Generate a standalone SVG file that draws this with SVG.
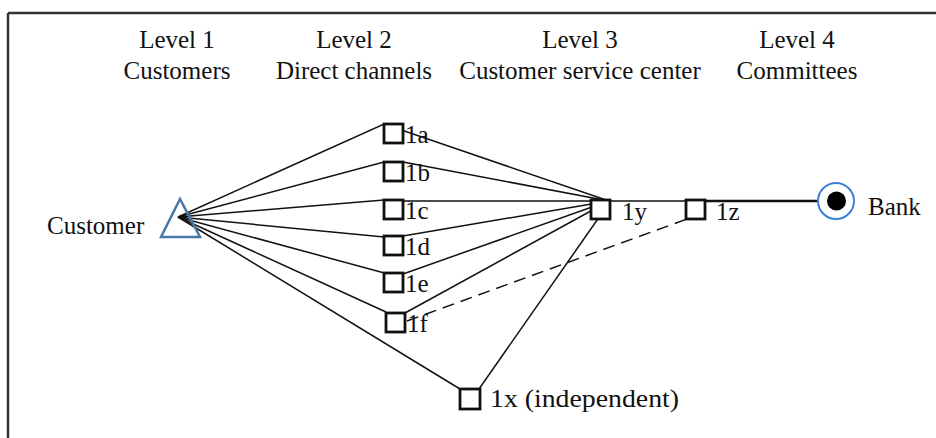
<svg xmlns="http://www.w3.org/2000/svg" width="936" height="438" viewBox="0 0 936 438">
<style>
text{font-family:"Liberation Serif","Times New Roman",serif;font-size:25px;fill:#111}
.hd{text-anchor:middle}
.box{fill:#fff;stroke:#111;stroke-width:2.8}
.ln{stroke:#111;stroke-width:1.5;fill:none}
</style>
<rect width="936" height="438" fill="#fff"/>
<path d="M8,13 H936 M8,13 V438" stroke="#333" stroke-width="2.5" fill="none"/>
<g id="headers">
<text class="hd" x="177" y="48">Level 1</text>
<text class="hd" x="177" y="79">Customers</text>
<text class="hd" x="354" y="48">Level 2</text>
<text class="hd" x="354" y="79">Direct channels</text>
<text class="hd" x="580" y="48">Level 3</text>
<text class="hd" x="580" y="79">Customer service center</text>
<text class="hd" x="797" y="48">Level 4</text>
<text class="hd" x="797" y="79">Committees</text>
</g>
<g id="connectors">
<path class="ln" d="M178,217 L384,124 L609,201"/>
<path class="ln" d="M178,217 L384,162 L403,162 L609,201"/>
<path class="ln" d="M178,217 L384,200"/>
<path class="ln" d="M178,217 L384,237"/>
<path class="ln" d="M403,236 L609,201"/>
<path class="ln" d="M178,217 L388,274"/>
<path class="ln" d="M403,274 L609,201"/>
<path class="ln" d="M178,217 L386,312"/>
<path class="ln" d="M405,313 L609,201"/>
<path class="ln" d="M178,217 L460,389"/>
<path class="ln" d="M609,203 L479,389"/>
<path class="ln" d="M384,201 H687"/>
<path d="M705,201 H836" stroke="#111" stroke-width="2.5"/>
<path class="ln" d="M407,321 L687,219" stroke-dasharray="12,7"/>
</g>
<g id="customer">
<polygon points="180,199 161,237 200,237" fill="none" stroke="#4a78a6" stroke-width="2.5"/>
<text x="47" y="234">Customer</text>
</g>
<g id="n1a"><rect class="box" x="384" y="124" width="19" height="19"/><text x="405" y="143">1a</text></g>
<g id="n1b"><rect class="box" x="384" y="162" width="19" height="19"/><text x="405" y="181">1b</text></g>
<g id="n1c"><rect class="box" x="384" y="200" width="19" height="19"/><text x="405" y="219">1c</text></g>
<g id="n1d"><rect class="box" x="384" y="236" width="19" height="19"/><text x="405" y="255">1d</text></g>
<g id="n1e"><rect class="box" x="384" y="273" width="19" height="19"/><text x="405" y="292">1e</text></g>
<g id="n1f"><rect class="box" x="386" y="313" width="19" height="19"/><text x="407" y="332">1f</text></g>
<g id="n1y"><rect class="box" x="591" y="200" width="19" height="19"/><text x="622" y="220">1y</text></g>
<g id="n1z"><rect class="box" x="686" y="200" width="19" height="19"/><text x="716" y="220">1z</text></g>
<g id="n1x"><rect class="box" x="460" y="389" width="20" height="20"/><text x="490" y="407" textLength="189" lengthAdjust="spacingAndGlyphs">1x (independent)</text></g>
<g id="bank">
<circle cx="836" cy="201" r="18" fill="#fff" stroke="#3d7fd6" stroke-width="2"/>
<circle cx="836.5" cy="201" r="9.5" fill="#000"/>
<text x="868" y="215">Bank</text>
</g>
</svg>
